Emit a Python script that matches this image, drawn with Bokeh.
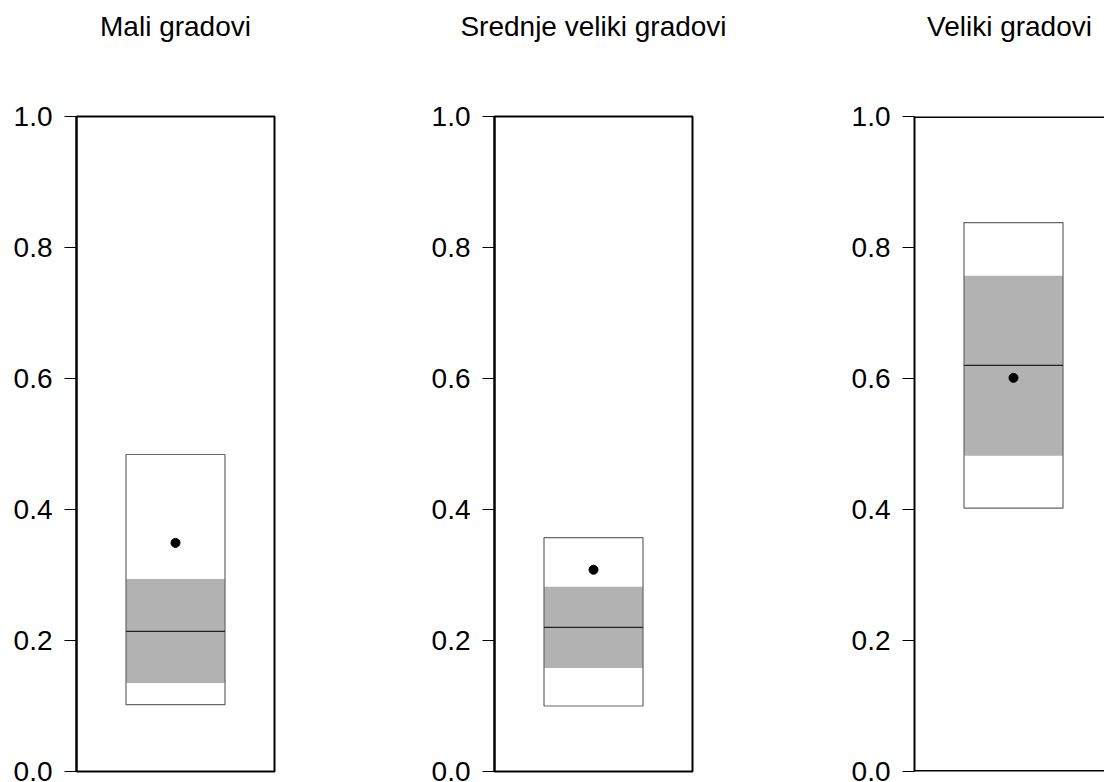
from bokeh.plotting import figure
from bokeh.layouts import row
from bokeh.models import Range1d, FixedTicker, PrintfTickFormatter, Span, Title
from bokeh.embed import file_html
from bokeh.resources import INLINE

# ---- data ----
groups = ["Mali gradovi", "Srednje veliki gradovi", "Veliki gradovi"]
mins = [0.102, 0.100, 0.402]
maxs = [0.484, 0.357, 0.838]
q1s = [0.135, 0.158, 0.482]
q3s = [0.294, 0.282, 0.757]
medians = [0.214, 0.220, 0.620]
means = [0.349, 0.308, 0.601]
yticks = [0.0, 0.2, 0.4, 0.6, 0.8, 1.0]

FONT = "Liberation Sans"
figs = []
frame_widths = [198, 198, 190]
left_borders = [76, 68, 68]
right_borders = [152, 154, 0]

for i, g in enumerate(groups):
    fw = frame_widths[i]
    p = figure(frame_width=fw, frame_height=655,
               min_border_left=left_borders[i], min_border_right=right_borders[i],
               min_border_top=116, min_border_bottom=11,
               x_range=Range1d(0, fw / 198.0), y_range=Range1d(0, 1),
               output_backend="svg", toolbar_location=None,
               x_axis_location=None)
    # real title (outermost panel)
    p.title.text = g
    p.title.align = "center"
    p.title.text_font = FONT
    p.title.text_font_size = "28px"
    p.title.text_font_style = "normal"
    p.title.text_color = "black"
    p.title.standoff = 0
    # blank spacer panel between the frame and the title
    p.add_layout(Title(text=" ", text_font=FONT, text_font_size="28px",
                       standoff=42), "above")
    p.grid.visible = False
    p.background_fill_color = "white"
    p.border_fill_color = "white"
    yax = p.yaxis[0]
    yax.ticker = FixedTicker(ticks=yticks)
    yax.formatter = PrintfTickFormatter(format="%.1f")
    yax.major_label_text_font = FONT
    yax.major_label_text_font_size = "28px"
    yax.major_label_text_color = "black"
    yax.major_label_standoff = 12
    yax.major_tick_out = 12
    yax.major_tick_in = 0
    yax.minor_tick_out = 0
    yax.minor_tick_in = 0
    yax.axis_line_color = "black"
    yax.axis_line_width = 2
    yax.major_tick_line_color = "black"
    yax.major_tick_line_width = 1

    if i < 2:
        p.outline_line_color = "black"
        p.outline_line_width = 2
        p.outline_line_alpha = 1
    else:
        p.outline_line_color = None
        for loc in (0.0, 1.0):
            p.add_layout(Span(location=loc, dimension="width",
                              line_color="black", line_width=3))

    # IQR box (grey)
    p.quad(left=[0.25], right=[0.75], bottom=[q1s[i]], top=[q3s[i]],
           fill_color="#b2b2b2", line_color=None)
    # min-max box outline
    p.quad(left=[0.25], right=[0.75], bottom=[mins[i]], top=[maxs[i]],
           fill_color=None, line_color="#666666", line_width=1.2)
    # median
    p.segment(x0=[0.25], x1=[0.75], y0=[medians[i]], y1=[medians[i]],
              line_color="#222222", line_width=1.3)
    # mean
    p.scatter(x=[0.5], y=[means[i]], size=9, fill_color="black",
              line_color="black")
    figs.append(p)

layout = row(*figs, spacing=0)
open("out.html", "w").write(file_html(layout, INLINE))
